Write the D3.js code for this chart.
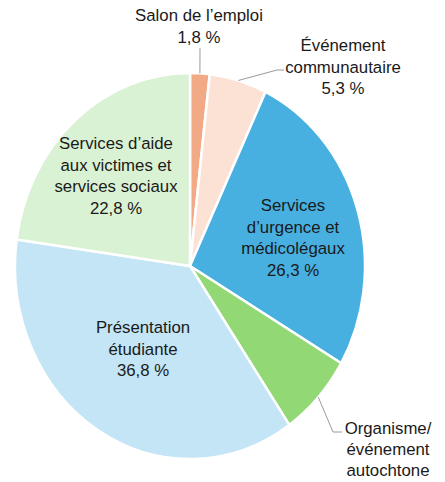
<!DOCTYPE html>
<html>
<head>
<meta charset="utf-8">
<script src="https://cdn.jsdelivr.net/npm/d3@7"></script>
<style>
  body { margin: 0; background: #fff; }
  text { font-family: "Liberation Sans", Arial, sans-serif; font-size: 16.8px; fill: #1a1a1a; }
</style>
</head>
<body>
<div id="pie"></div>
<script>
// slices, clockwise from 12 o'clock
var categories = ["Salon de l’emploi", "Événement communautaire", "Services d’urgence et médicolégaux",
    "Organisme/ événement autochtone", "Présentation étudiante", "Services d’aide aux victimes et services sociaux"];
var values = [1.8, 5.3, 26.3, 7.0, 36.8, 22.8];
var colors = ["#f2aa86", "#fce2d5", "#47b0e0", "#92d975", "#c3e5f5", "#daf2d4"];

// label lines as printed
var labelLines = [
    ["Salon de l’emploi", "1,8 %"],
    ["Événement", "communautaire", "5,3 %"],
    ["Services", "d’urgence et", "médicolégaux", "26,3 %"],
    ["Organisme/", "événement", "autochtone"],
    ["Présentation", "étudiante", "36,8 %"],
    ["Services d’aide", "aux victimes et", "services sociaux", "22,8 %"]
];

var width = 445;
var height = 482;
var cx = 190, cy = 266;
var rx = 175, ry = 193;   // the reference pie is a bit taller than wide
var lineH = 21.5;

// where each label block is centred (first line y) and leader elbows for the outside ones
var labelPos = [
    {x: 199, y: 21, leader: [[200, 48]]},
    {x: 343, y: 51, leader: [[277, 70], [284, 70]]},
    {x: 293, y: 211},
    {x: 388, y: 434, leader: [[333, 432], [342, 432]]},
    {x: 143, y: 333},
    {x: 116, y: 149}
];

var svg = d3.select('#pie')
    .append('svg')
    .attr('width', width)
    .attr('height', height);

var g = svg.append('g')
    .attr('transform', 'translate(' + cx + ',' + cy + ') scale(1,' + (ry / rx) + ')');

var pie = d3.pie()
    .value(function (d) { return d; })
    .sort(null);

var arc = d3.arc()
    .innerRadius(0)
    .outerRadius(rx);

var arcs = pie(values);

g.selectAll('path')
    .data(arcs)
    .enter()
    .append('path')
    .attr('d', arc)
    .attr('fill', function (d, i) { return colors[i]; })
    .attr('stroke', '#fff')
    .attr('stroke-width', 2.5)
    .attr('vector-effect', 'non-scaling-stroke')
    .append('title')
    .text(function (d, i) { return categories[i]; });

// leader lines start at the slice's outer edge, mid angle
function edgePoint(d) {
    var a = (d.startAngle + d.endAngle) / 2;
    return [cx + rx * Math.sin(a), cy - ry * Math.cos(a)];
}

arcs.forEach(function (d, i) {
    var p = labelPos[i];
    if (p.leader) {
        var pts = [edgePoint(d)].concat(p.leader);
        svg.append('polyline')
            .attr('points', pts.map(function (q) { return q.join(','); }).join(' '))
            .attr('fill', 'none')
            .attr('stroke', '#9a9a9a')
            .attr('stroke-width', 1);
    }
    var t = svg.append('text')
        .attr('text-anchor', 'middle');
    var lh = i === 3 ? 21 : lineH;
    labelLines[i].forEach(function (line, k) {
        t.append('tspan')
            .attr('x', p.x)
            .attr('y', p.y + k * lh)
            .text(line);
    });
});
</script>
</body>
</html>
